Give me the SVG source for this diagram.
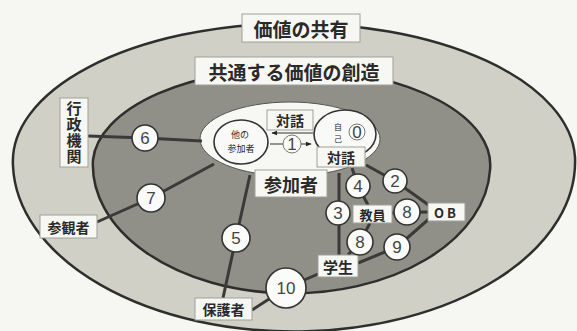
<svg xmlns="http://www.w3.org/2000/svg" width="577" height="331" viewBox="0 0 577 331">
<defs>
<style>
.jp{font-family:"Noto Sans CJK JP","Noto Sans",sans-serif;fill:#2a2a2a;text-anchor:middle;dominant-baseline:central}
.b{font-weight:bold}
.box{fill:#f7f7f4;stroke:#a0a09a;stroke-width:1}
.num{fill:#fbfbf9;stroke:#333;stroke-width:1.6}
.numt{font-family:"Liberation Sans","DejaVu Sans",sans-serif;fill:#444;text-anchor:middle;dominant-baseline:central;font-size:17px}
.conn{fill:none;stroke:#3a3a38;stroke-width:3;stroke-linejoin:round}
.thin{fill:none;stroke:#333;stroke-width:1.2}
</style>
<marker id="ah" viewBox="0 0 10 10" refX="9" refY="5" markerWidth="5" markerHeight="5" orient="auto-start-reverse">
<path d="M0,1 L10,5 L0,9 Z" fill="#222"/>
</marker>
</defs>
<rect width="577" height="331" fill="#f6f6f3"/>
<g id="share">
<path d="M13,166 A281,138 0 0 1 575,157 A281,170 0 0 1 13,166 Z" fill="#d0d0c7" stroke="#2e2e2c" stroke-width="2.5"/>
</g>
<g id="create">
<path d="M93,160 A198,96 0 0 1 490,170 A198,128 0 0 1 93,160 Z" fill="#909088" stroke="#2e2e2c" stroke-width="2.5"/>
</g>
<g id="participants-area">
<ellipse cx="290" cy="139" rx="90" ry="37" fill="#f7f7f4" stroke="#555" stroke-width="1"/>
</g>
<g id="other">
<ellipse cx="241" cy="142" rx="27" ry="22" fill="#f9f9f7" stroke="#333" stroke-width="1.6"/>
<text class="jp" x="240" y="134" font-size="9">他の</text>
<text class="jp" x="241" y="148" font-size="9">参加者</text>
</g>
<g id="self">
<ellipse cx="345" cy="134" rx="31" ry="24" fill="#f9f9f7" stroke="#333" stroke-width="1.6"/>
<text class="jp" x="338" y="126" font-size="8">自</text>
<text class="jp" x="338" y="138" font-size="8">己</text>
<circle cx="357" cy="132" r="8" fill="#fbfbf9" stroke="#777" stroke-width="1"/>
<text class="numt" x="357" y="132" font-size="15">0</text>
</g>
<g id="connectors">
<path class="conn" d="M88,136 L145,138 L202,141"/>
<path class="conn" d="M97,222 L151,198 L214,164"/>
<path class="conn" d="M223,298 L236,238 L250,175"/>
<path class="conn" d="M252,310 L286,288 L318,274"/>
<path class="conn" d="M358,263 L397,247 L430,218"/>
<path class="conn" d="M339,173 L339,255"/>
<path class="conn" d="M352,168 L358,186 L368,205"/>
<path class="conn" d="M370,223 L360,242 L348,255"/>
<path class="conn" d="M366,165 L395,181 L430,206"/>
<path class="conn" d="M392,213 L428,212"/>
<path class="thin" d="M313,133 L272,133" marker-end="url(#ah)"/>
<path class="thin" d="M270,144 L311,144" marker-end="url(#ah)"/>
</g>
<g id="n1">
<circle cx="292" cy="144" r="9" fill="#fbfbf9" stroke="#777" stroke-width="1"/>
<text class="numt" x="292" y="144" font-size="15">1</text>
</g>
<g id="label-share">
<rect class="box" x="242" y="14" width="118" height="28"/>
<text class="jp b" x="301" y="28" font-size="19">価値の共有</text>
</g>
<g id="label-create">
<rect class="box" x="195" y="57" width="198" height="28"/>
<text class="jp b" x="294" y="71" font-size="19">共通する価値の創造</text>
</g>
<g id="dialog1">
<rect class="box" x="267" y="110" width="46" height="20"/>
<text class="jp b" x="290" y="120" font-size="14">対話</text>
</g>
<g id="dialog2">
<rect class="box" x="317" y="147" width="48" height="20"/>
<text class="jp b" x="341" y="157" font-size="14">対話</text>
</g>
<g id="participant">
<rect class="box" x="255" y="170" width="72" height="27"/>
<text class="jp b" x="291" y="183.5" font-size="18">参加者</text>
</g>
<g id="gov">
<rect class="box" x="60" y="98" width="28" height="69"/>
<text class="jp b" x="74" y="132.5" font-size="15" writing-mode="vertical-rl" letter-spacing="1">行政機関</text>
</g>
<g id="visitor">
<rect class="box" x="40" y="215" width="57" height="23"/>
<text class="jp b" x="68.5" y="226.5" font-size="14">参観者</text>
</g>
<g id="guardian">
<rect class="box" x="195" y="298" width="57" height="22"/>
<text class="jp b" x="223.5" y="309" font-size="14">保護者</text>
</g>
<g id="student">
<rect class="box" x="318" y="255" width="40" height="22"/>
<text class="jp b" x="338" y="266" font-size="15">学生</text>
</g>
<g id="teacher">
<rect class="box" x="353" y="205" width="39" height="18"/>
<text class="jp b" x="372.5" y="214" font-size="13">教員</text>
</g>
<g id="ob">
<rect class="box" x="428" y="203" width="37" height="18"/>
<text class="jp b" x="446.5" y="212" font-size="13" letter-spacing="3">OB</text>
</g>
<g id="n6"><circle class="num" cx="145" cy="138" r="13"/><text class="numt" x="145" y="138">6</text></g>
<g id="n7"><circle class="num" cx="151" cy="198" r="14"/><text class="numt" x="151" y="198">7</text></g>
<g id="n5"><circle class="num" cx="236" cy="238" r="14"/><text class="numt" x="236" y="238">5</text></g>
<g id="n10"><circle class="num" cx="286" cy="288" r="20"/><text class="numt" x="286" y="288">10</text></g>
<g id="n4"><circle class="num" cx="358" cy="186" r="12"/><text class="numt" x="358" y="186">4</text></g>
<g id="n2"><circle class="num" cx="395" cy="181" r="12"/><text class="numt" x="395" y="181">2</text></g>
<g id="n3"><circle class="num" cx="338" cy="213" r="12"/><text class="numt" x="338" y="213">3</text></g>
<g id="n8a"><circle class="num" cx="407" cy="212" r="13"/><text class="numt" x="407" y="212">8</text></g>
<g id="n8b"><circle class="num" cx="360" cy="242" r="13"/><text class="numt" x="360" y="242">8</text></g>
<g id="n9"><circle class="num" cx="397" cy="247" r="13"/><text class="numt" x="397" y="247">9</text></g>
</svg>
